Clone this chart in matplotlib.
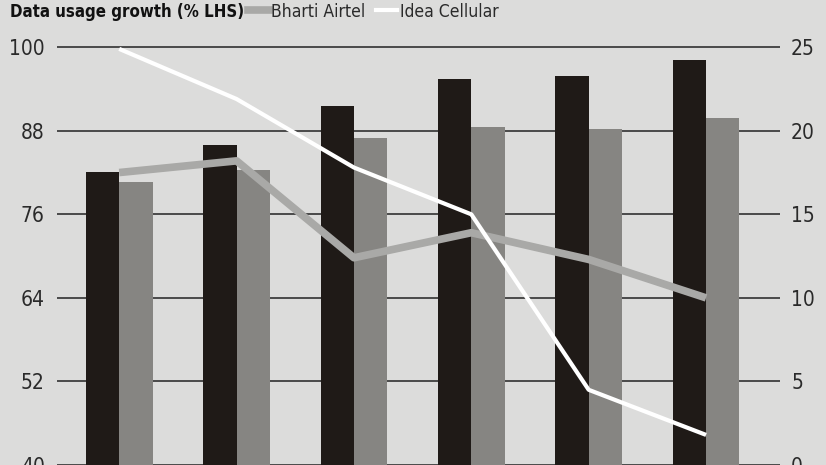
import matplotlib
matplotlib.use("Agg")
import matplotlib.pyplot as plt
import numpy as np
from matplotlib.lines import Line2D

# bar values (left axis) and growth lines (right axis)
bharti_bars = [82.1, 86.0, 91.5, 95.4, 95.9, 98.1]
idea_bars = [80.6, 82.4, 87.0, 88.5, 88.2, 89.9]
bharti_growth = [17.5, 18.2, 12.4, 13.9, 12.3, 10.0]
idea_growth = [24.9, 21.9, 17.8, 15.0, 4.5, 1.8]
left_ticks = [40, 52, 64, 76, 88, 100]
right_ticks = [0, 5, 10, 15, 20, 25]

plt.rcParams['font.family'] = ['DejaVu Sans']
plt.rcParams['font.stretch'] = 'condensed'

bg = '#dcdcdb'
fig = plt.figure(figsize=(8.26, 4.65), dpi=100, facecolor=bg)
ax = fig.add_axes([57 / 826, 0, (780 - 57) / 826, 1])
ax.set_facecolor(bg)

x = np.arange(len(bharti_bars))
w = 0.284
ax.bar(x - w / 2, bharti_bars, width=w, color='#1f1a17', zorder=2)
ax.bar(x + w / 2, idea_bars, width=w, color='#868582', zorder=2)

ax.set_xlim(-0.53, 5.63)
ax.set_ylim(41.52, 106.78)
ax.set_yticks(left_ticks)
ax.set_xticks([])
ax.grid(axis='y', color='#4a4a4a', linewidth=1.4, zorder=1)
ax.set_axisbelow(True)
for s in ax.spines.values():
    s.set_visible(False)
ax.tick_params(axis='y', length=0, pad=9, labelsize=15, colors='#2a2a2a')

ax2 = ax.twinx()
ax2.plot(x, bharti_growth, color='#a9a9a7', linewidth=5.5, solid_capstyle='butt', zorder=3)
ax2.plot(x, idea_growth, color='white', linewidth=3, solid_capstyle='butt', zorder=4)
ax2.set_ylim((41.52 - 40) / 60 * 25, (106.78 - 40) / 60 * 25)
ax2.set_yticks(right_ticks)
for s in ax2.spines.values():
    s.set_visible(False)
ax2.tick_params(axis='y', length=0, pad=8, labelsize=15, colors='#2a2a2a')

fig.text(0.012, 0.975, 'Data usage growth (% LHS)', fontsize=12.1, fontweight='bold',
         color='#111111', va='center', ha='left')
handles = [Line2D([], [], color='#a9a9a7', linewidth=5.5),
           Line2D([], [], color='white', linewidth=3)]
fig.legend(handles, ['Bharti Airtel', 'Idea Cellular'], ncol=2, frameon=False,
           loc='center left', bbox_to_anchor=(0.300, 0.975), fontsize=12.6,
           handlelength=1.2, handletextpad=0.15, columnspacing=0.6,
           labelcolor='#2a2a2a', borderpad=0, borderaxespad=0)

fig.savefig('out.png', dpi=100, facecolor=bg)
